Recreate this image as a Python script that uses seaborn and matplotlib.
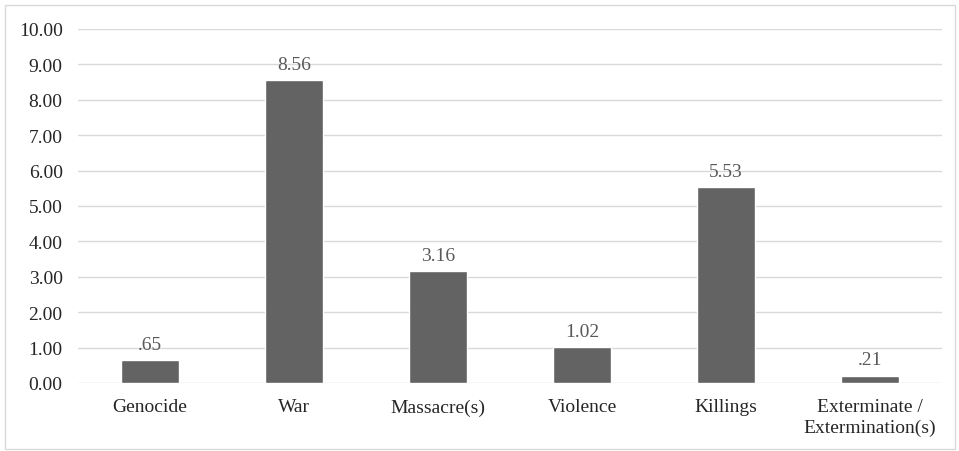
"""
Bar chart: mean frequency of terms
"""

import matplotlib
matplotlib.use('Agg')
import matplotlib.pyplot as plt
import seaborn as sns
import pandas as pd
from matplotlib.patches import Rectangle

# Data
categories = ['Genocide', 'War', 'Massacre(s)', 'Violence', 'Killings',
              'Exterminate /\nExtermination(s)']
values = [0.65, 8.56, 3.16, 1.02, 5.53, 0.21]
value_labels = ['.65', '8.56', '3.16', '1.02', '5.53', '.21']
y_ticks = [0, 1, 2, 3, 4, 5, 6, 7, 8, 9, 10]

sns.set_style('white')
plt.rcParams['font.family'] = ['Liberation Serif', 'DejaVu Serif']

df = pd.DataFrame({'term': categories, 'value': values})

fig = plt.figure(figsize=(9.59, 4.52), dpi=100)
ax = fig.add_axes([78 / 959, 1 - 384 / 452, (942 - 78) / 959, (384 - 30) / 452])

sns.barplot(data=df, x='term', y='value', color='#636363', saturation=1,
            width=0.4, ax=ax, zorder=3)

# Value labels above bars
for i, (v, lab) in enumerate(zip(values, value_labels)):
    ax.text(i, v + 0.2, lab, ha='center', va='bottom', fontsize=14,
            color='#595959')

ax.set_ylim(0, 10)
ax.set_xlim(-0.5, len(categories) - 0.5)
ax.set_yticks(y_ticks)
ax.set_yticklabels([f'{t:.2f}' for t in y_ticks])
ax.yaxis.grid(True, color='#d9d9d9', linewidth=1, zorder=0)
ax.set_xlabel('')
ax.set_ylabel('')
ax.tick_params(axis='both', length=0, labelsize=14, colors='#262626')
ax.tick_params(axis='y', pad=11)
ax.tick_params(axis='x', pad=11)
for lbl in ax.get_xticklabels():
    lbl.set_linespacing(1.25)
for s in ax.spines.values():
    s.set_visible(False)

# Outer chart border
fig.patches.append(Rectangle((5 / 959, 2 / 452), 950 / 959, 444 / 452,
                             transform=fig.transFigure, fill=False,
                             edgecolor='#d9d9d9', linewidth=1))

fig.savefig('out.png', dpi=100)
